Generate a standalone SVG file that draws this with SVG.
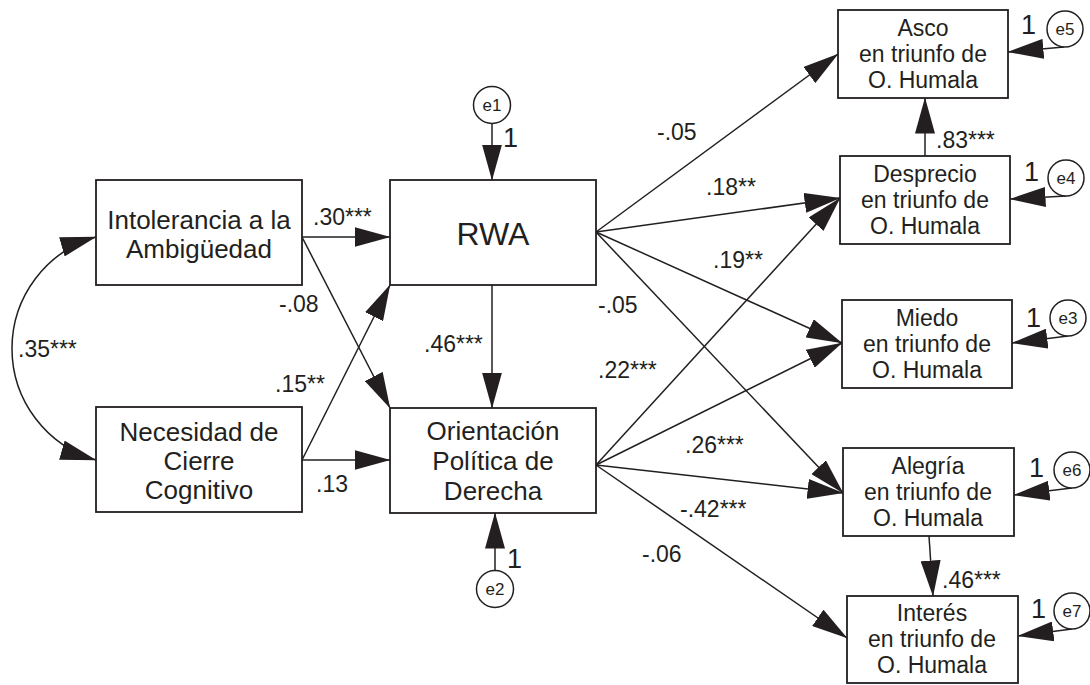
<svg xmlns="http://www.w3.org/2000/svg" width="1090" height="685" viewBox="0 0 1090 685">
<style>
  .box { fill: #ffffff; stroke: #231f20; stroke-width: 1.8; }
  .err { fill: #ffffff; stroke: #231f20; stroke-width: 1.5; }
  .edge { fill: none; stroke: #231f20; stroke-width: 1.5; marker-end: url(#ah); }
  .t { font-family: "Liberation Sans", Arial, sans-serif; fill: #231f20; }
  .lt { font-size: 26px; text-anchor: middle; }
  .rt { font-size: 23px; text-anchor: middle; }
  .lbl { font-size: 23px; }
  .one { font-size: 27px; }
  .et { font-size: 17px; text-anchor: middle; }
</style>
<defs>
  <marker id="ah" markerUnits="userSpaceOnUse" markerWidth="36" markerHeight="20" viewBox="0 0 36 20" refX="35.5" refY="10" orient="auto-start-reverse">
    <path d="M0,0 L36,10 L0,20 z" fill="#231f20"/>
  </marker>
</defs>
<rect width="1090" height="685" fill="#ffffff"/>

<g id="connectors">
  <path class="edge" d="M302,237 L390,237"/>
  <path class="edge" d="M302,237 L390,408"/>
  <path class="edge" d="M302,460 L390,285"/>
  <path class="edge" d="M302,460 L390,460"/>
  <path class="edge" d="M492,285 L492,408"/>
  <path class="edge" d="M492,123 L492,180"/>
  <path class="edge" d="M495,570 L495,513"/>
  <path class="edge" d="M596,232 L838,54"/>
  <path class="edge" d="M596,232 L840,198"/>
  <path class="edge" d="M596,232 L842,343"/>
  <path class="edge" d="M596,232 L843,493"/>
  <path class="edge" d="M596,465 L840,198"/>
  <path class="edge" d="M596,465 L842,343"/>
  <path class="edge" d="M596,465 L843,493"/>
  <path class="edge" d="M596,465 L847,638"/>
  <path class="edge" d="M925,156 L925,98"/>
  <path class="edge" d="M929,536 L933,596"/>
  <path class="edge" d="M1064,47 L1008,52"/>
  <path class="edge" d="M1066,196 L1010,199"/>
  <path class="edge" d="M1068,336 L1012,343"/>
  <path class="edge" d="M1072,488 L1014,495"/>
  <path class="edge" d="M1072,629 L1018,636"/>
  <path class="edge" style="marker-start:url(#ah)" d="M96,237 A116,116 0 0 0 96,460"/>
</g>

<g id="labels" class="t lbl">
  <text x="313" y="225">.30***</text>
  <text x="279" y="312">-.08</text>
  <text x="275" y="392">.15**</text>
  <text x="424" y="352">.46***</text>
  <text x="18" y="357">.35***</text>
  <text x="316" y="492">.13</text>
  <text x="657" y="140">-.05</text>
  <text x="706" y="195">.18**</text>
  <text x="713" y="268">.19**</text>
  <text x="598" y="313">-.05</text>
  <text x="598" y="378">.22***</text>
  <text x="685" y="453">.26***</text>
  <text x="680" y="517">-.42***</text>
  <text x="642" y="562">-.06</text>
  <text x="936" y="148">.83***</text>
  <text x="942" y="588">.46***</text>
</g>

<g id="n-intolerancia">
  <rect class="box" x="96" y="180" width="206" height="105"/>
  <text class="t lt" x="199" y="229">Intolerancia a la</text>
  <text class="t lt" x="199" y="258">Ambigüedad</text>
</g>
<g id="n-necesidad">
  <rect class="box" x="96" y="407" width="206" height="105"/>
  <text class="t lt" x="199" y="441">Necesidad de</text>
  <text class="t lt" x="199" y="470">Cierre</text>
  <text class="t lt" x="199" y="499">Cognitivo</text>
</g>
<g id="n-rwa">
  <rect class="box" x="390" y="180" width="206" height="105"/>
  <text class="t" x="493" y="245" font-size="32" text-anchor="middle">RWA</text>
</g>
<g id="n-orientacion">
  <rect class="box" x="390" y="408" width="206" height="105"/>
  <text class="t lt" x="493" y="440">Orientación</text>
  <text class="t lt" x="493" y="470">Política de</text>
  <text class="t lt" x="493" y="500">Derecha</text>
</g>
<g id="n-asco">
  <rect class="box" x="838" y="10" width="170" height="88"/>
  <text class="t rt" x="923" y="36">Asco</text>
  <text class="t rt" x="923" y="62">en triunfo de</text>
  <text class="t rt" x="923" y="88">O. Humala</text>
</g>
<g id="n-desprecio">
  <rect class="box" x="840" y="156" width="170" height="88"/>
  <text class="t rt" x="925" y="182">Desprecio</text>
  <text class="t rt" x="925" y="208">en triunfo de</text>
  <text class="t rt" x="925" y="234">O. Humala</text>
</g>
<g id="n-miedo">
  <rect class="box" x="842" y="300" width="170" height="88"/>
  <text class="t rt" x="927" y="326">Miedo</text>
  <text class="t rt" x="927" y="352">en triunfo de</text>
  <text class="t rt" x="927" y="378">O. Humala</text>
</g>
<g id="n-alegria">
  <rect class="box" x="843" y="448" width="171" height="88"/>
  <text class="t rt" x="928" y="474">Alegría</text>
  <text class="t rt" x="928" y="500">en triunfo de</text>
  <text class="t rt" x="928" y="526">O. Humala</text>
</g>
<g id="n-interes">
  <rect class="box" x="847" y="596" width="171" height="87"/>
  <text class="t rt" x="932" y="621">Interés</text>
  <text class="t rt" x="932" y="647">en triunfo de</text>
  <text class="t rt" x="932" y="673">O. Humala</text>
</g>

<g id="e1">
  <circle class="err" cx="492" cy="105" r="18.5"/>
  <text class="t et" x="492" y="111">e1</text>
  <text class="t one" x="503" y="147">1</text>
</g>
<g id="e2">
  <circle class="err" cx="495" cy="589" r="18.5"/>
  <text class="t et" x="495" y="595">e2</text>
  <text class="t one" x="507" y="568">1</text>
</g>
<g id="e5">
  <circle class="err" cx="1065" cy="29" r="18"/>
  <text class="t et" x="1065" y="35">e5</text>
  <text class="t one" x="1021" y="34">1</text>
</g>
<g id="e4">
  <circle class="err" cx="1066" cy="178" r="18"/>
  <text class="t et" x="1066" y="184">e4</text>
  <text class="t one" x="1024" y="181">1</text>
</g>
<g id="e3">
  <circle class="err" cx="1068" cy="318" r="18"/>
  <text class="t et" x="1068" y="324">e3</text>
  <text class="t one" x="1026" y="327">1</text>
</g>
<g id="e6">
  <circle class="err" cx="1072" cy="470" r="18"/>
  <text class="t et" x="1072" y="476">e6</text>
  <text class="t one" x="1029" y="477">1</text>
</g>
<g id="e7">
  <circle class="err" cx="1072" cy="611" r="18"/>
  <text class="t et" x="1072" y="617">e7</text>
  <text class="t one" x="1031" y="618">1</text>
</g>
</svg>
